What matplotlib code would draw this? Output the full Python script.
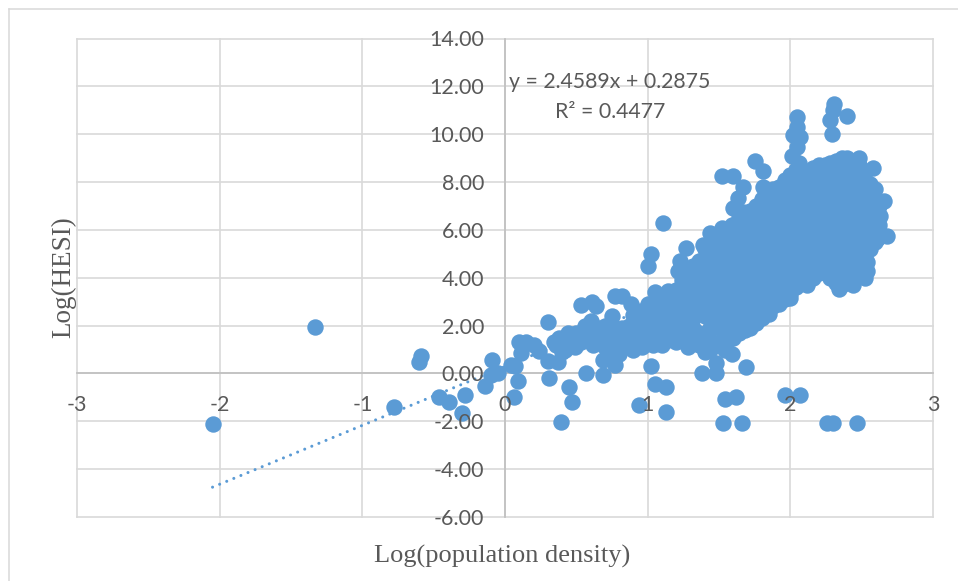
import matplotlib
matplotlib.use("Agg")
import matplotlib.pyplot as plt
from matplotlib.lines import Line2D

plt.rcParams["axes.unicode_minus"] = False

# outliers and small clusters
outlier_x = [-2.05, -1.33, -0.60, -0.59, -0.78, -0.46, -0.39, -0.28, -0.30, -0.14, -0.09, -0.10, -0.05,
             0.04, 0.07, 0.09, 0.06, 0.10, 0.15, 0.11, 0.20, 0.24, 0.30, 0.31, 0.30, 0.37, 0.45, 0.47, 0.39,
             0.57, 0.69, 0.69, 0.77, 0.94, 1.02, 1.05, 1.13, 1.13, 1.38, 1.48, 1.48, 1.54, 1.59, 1.69,
             1.54, 1.62, 1.53, 1.66, 1.96, 2.07, 2.26, 2.30, 2.47]
outlier_y = [-2.10, 1.93, 0.47, 0.72, -1.42, -1.00, -1.20, -0.90, -1.65, -0.52, 0.55, -0.05, 0.00,
             0.37, 0.33, -0.32, -1.00, 1.30, 1.30, 0.85, 1.17, 0.95, 2.15, -0.20, 0.50, 0.46, -0.55, -1.20, -2.05,
             0.00, -0.08, 0.55, 0.36, -1.33, 0.30, -0.45, -0.57, -1.60, 0.00, 0.00, 0.45, 1.00, 0.80, 0.27,
             -1.05, -1.00, -2.08, -2.08, -0.88, -0.92, -2.08, -2.08, -2.08]

upper_x = [2.305, 2.40, 2.28, 2.29, 2.05, 2.05, 2.02, 2.07, 2.01, 2.05, 1.75, 1.81, 1.52, 1.60, 1.67, 1.63,
           1.60, 1.67, 1.11, 1.81, 1.44, 1.52, 1.59, 1.39, 1.27, 1.23, 1.21, 1.02, 1.00, 2.58, 2.66, 2.68,
           2.34, 2.44, 2.12, 2.00, 1.85, 1.75, 2.54, 2.52, 2.30, 2.06, 2.04, 2.63, 2.61, 2.54]
upper_y = [11.25, 10.75, 10.60, 10.00, 10.70, 10.30, 9.95, 9.90, 9.10, 9.45, 8.90, 8.45, 8.25, 8.25, 7.80, 7.35,
           6.90, 6.75, 6.27, 7.80, 5.85, 6.10, 6.20, 5.35, 5.25, 4.70, 4.30, 5.00, 4.50, 8.60, 7.20, 5.73,
           3.55, 3.68, 3.68, 3.15, 2.50, 2.10, 4.30, 4.00, 11.00, 8.80, 8.50, 6.60, 5.60, 4.65]

mid_x = [0.36, 0.42, 0.46, 0.50, 0.53, 0.56, 0.60, 0.60, 0.65, 0.66, 0.70, 0.72, 0.75, 0.78, 0.80, 0.83, 0.85,
         0.87, 0.90, 0.93, 0.95, 0.96, 1.00, 1.00, 1.02, 1.03, 1.06, 1.08, 1.10, 1.12, 1.14, 1.15, 0.40, 0.49,
         0.72, 0.53, 0.61, 0.64, 0.77, 0.82, 0.88, 0.75, 0.90, 1.05, 1.14, 1.10, 0.34,
         0.38, 0.44, 0.50, 0.56, 0.62, 0.68, 0.70, 0.76, 0.80, 0.82, 0.90, 0.90, 0.96, 0.98, 1.04, 1.04, 1.08,
         1.08, 1.14, 1.16, 1.16, 1.18, 1.06, 1.00, 0.95]
mid_y = [1.20, 1.00, 1.40, 1.70, 1.30, 2.00, 1.60, 2.20, 1.90, 1.40, 1.10, 1.70, 2.00, 1.30, 0.80, 1.10, 1.60,
         2.00, 1.30, 1.70, 2.20, 1.10, 1.50, 2.00, 2.50, 2.90, 1.90, 2.30, 1.50, 2.70, 3.10, 1.90, 0.90, 1.10,
         0.70, 2.85, 3.00, 2.80, 3.25, 3.25, 2.90, 2.40, 2.45, 3.40, 3.45, 1.20, 1.30,
         1.50, 1.70, 1.20, 1.60, 1.20, 1.60, 2.00, 1.60, 1.30, 1.90, 1.00, 2.00, 1.50, 1.80, 1.20, 1.70, 1.30,
         2.70, 1.40, 2.30, 2.70, 3.20, 3.10, 2.90, 2.60]

# main cloud, one list of log(HESI) per log(density) column
cloud_x = [1.20, 1.24, 1.28, 1.32, 1.36, 1.40, 1.44, 1.48, 1.52, 1.56, 1.60, 1.64, 1.68, 1.72, 1.76, 1.80, 1.84,
           1.88, 1.92, 1.96, 2.00, 2.04, 2.08, 2.12, 2.16, 2.20, 2.24, 2.28, 2.32, 2.36, 2.40, 2.44, 2.48, 2.52,
           2.56, 2.59, 2.62]
cloud_y = [
    [1.3, 1.8, 2.7, 3.1, 3.5],
    [2.0, 2.5, 3.0, 3.9],
    [1.1, 1.5, 2.4, 2.9, 3.3, 3.8, 4.2],
    [1.9, 2.3, 3.2, 3.7, 4.5],
    [1.2, 1.7, 2.6, 3.0, 3.9, 4.4, 4.7],
    [0.9, 1.5, 2.4, 2.9, 3.4, 3.8, 4.3, 4.8, 5.2],
    [1.0, 1.4, 1.9, 2.8, 3.2, 3.7, 4.1, 4.6, 5.0, 5.4],
    [1.2, 2.1, 2.5, 3.0, 3.4, 3.9, 4.3, 4.8, 5.2, 5.6],
    [1.3, 1.8, 2.2, 2.7, 3.1, 3.6, 4.0, 4.5, 4.9, 5.4, 5.8],
    [1.4, 1.9, 2.3, 2.8, 3.2, 3.7, 4.1, 4.6, 5.0, 5.5, 5.9],
    [1.5, 2.0, 2.4, 2.9, 3.3, 3.8, 4.2, 4.7, 5.1, 5.6, 6.0],
    [1.7, 2.1, 2.6, 3.0, 3.5, 3.9, 4.4, 4.8, 5.3, 5.7, 6.2, 6.5],
    [1.8, 2.2, 2.7, 3.1, 3.6, 4.0, 4.5, 4.9, 5.4, 5.8, 6.3],
    [1.9, 2.3, 2.8, 3.2, 3.7, 4.1, 4.6, 5.0, 5.5, 5.9, 6.4, 6.8],
    [2.1, 2.5, 3.0, 3.4, 3.9, 4.3, 4.8, 5.2, 5.7, 6.1, 6.6, 7.0],
    [2.3, 2.8, 3.2, 3.7, 4.1, 4.6, 5.0, 5.5, 5.9, 6.4, 6.8, 7.3],
    [2.6, 3.0, 3.5, 3.9, 4.4, 4.8, 5.3, 5.7, 6.2, 6.6, 7.1, 7.5],
    [2.8, 3.2, 3.7, 4.1, 4.6, 5.0, 5.5, 5.9, 6.4, 6.8, 7.3, 7.7],
    [2.9, 3.3, 3.8, 4.2, 4.7, 5.1, 5.6, 6.0, 6.5, 6.9, 7.4, 7.8],
    [3.1, 3.6, 4.0, 4.5, 4.9, 5.4, 5.8, 6.3, 6.7, 7.2, 7.6, 8.1],
    [3.3, 3.8, 4.2, 4.7, 5.1, 5.6, 6.0, 6.5, 6.9, 7.4, 7.8, 8.3],
    [3.6, 4.0, 4.5, 4.9, 5.4, 5.8, 6.3, 6.7, 7.2, 7.6, 8.1, 8.5],
    [3.9, 4.3, 4.8, 5.2, 5.7, 6.1, 6.6, 7.0, 7.5, 7.9, 8.3],
    [3.9, 4.4, 4.8, 5.3, 5.7, 6.2, 6.6, 7.1, 7.5, 8.0, 8.4],
    [4.0, 4.5, 4.9, 5.4, 5.8, 6.3, 6.7, 7.2, 7.6, 8.1, 8.6],
    [4.2, 4.6, 5.1, 5.5, 6.0, 6.4, 6.9, 7.3, 7.8, 8.2, 8.7],
    [4.3, 4.7, 5.2, 5.6, 6.1, 6.5, 7.0, 7.4, 7.9, 8.3, 8.7],
    [4.0, 4.5, 4.9, 5.4, 5.8, 6.3, 6.7, 7.2, 7.6, 8.1, 8.6, 8.8],
    [3.8, 4.3, 4.7, 5.2, 5.6, 6.1, 6.5, 7.0, 7.4, 7.9, 8.4, 8.9],
    [3.7, 4.1, 4.6, 5.0, 5.5, 5.9, 6.4, 6.8, 7.3, 7.7, 8.2, 8.7, 9.0],
    [3.9, 4.4, 4.8, 5.3, 5.7, 6.2, 6.6, 7.1, 7.5, 8.0, 8.5, 9.0],
    [4.1, 4.7, 5.1, 5.6, 6.0, 6.5, 6.9, 7.4, 7.8, 8.3, 8.9],
    [4.5, 4.9, 5.4, 5.8, 6.3, 6.7, 7.2, 7.6, 8.1, 8.7, 9.0],
    [4.8, 5.3, 5.7, 6.2, 6.6, 7.1, 7.5, 8.0, 8.4],
    [5.2, 5.6, 6.1, 6.5, 7.0, 7.4, 7.9],
    [5.5, 5.9, 6.4, 6.8, 7.3, 7.7],
    [5.8, 6.2, 6.6, 7.0],
]

slope = 2.4589
intercept = 0.2875
trend_x = [-2.05, 2.66]

x_ticks = [-3, -2, -1, 0, 1, 2, 3]
y_ticks = [-6, -4, -2, 0, 2, 4, 6, 8, 10, 12, 14]

density = outlier_x + upper_x + mid_x
hesi = outlier_y + upper_y + mid_y
for cx, col in zip(cloud_x, cloud_y):
    density += [cx] * len(col)
    hesi += col

W, H = 958, 581
fig = plt.figure(figsize=(W / 100, H / 100), dpi=100)
ax = fig.add_axes([77 / W, (H - 517) / H, (933 - 77) / W, (517 - 38.5) / H])

label_font = ["Lato", "DejaVu Sans"]
serif_font = ["Liberation Serif", "DejaVu Serif"]
grey = "#595959"
blue = "#5B9BD5"

for t in x_ticks:
    ax.axvline(t, color="#D9D9D9", lw=1.2, zorder=0.5, clip_on=False)
for t in y_ticks:
    ax.axhline(t, color="#D9D9D9", lw=1.2, zorder=0.5, clip_on=False)

ax.scatter(density, hesi, s=140, color=blue, linewidths=0, zorder=1, clip_on=False)
ax.plot(trend_x, [slope * v + intercept for v in trend_x], color=blue, lw=2.2,
        linestyle=(0, (0.01, 2.5)), dash_capstyle="round", zorder=1)

ax.set_xlim(-3, 3)
ax.set_ylim(-6, 14)
for side in ["top", "right"]:
    ax.spines[side].set_visible(False)
ax.spines["left"].set_position(("data", 0))
ax.spines["bottom"].set_position(("data", 0))
for side in ["left", "bottom"]:
    ax.spines[side].set_color("#BFBFBF")
    ax.spines[side].set_linewidth(1.2)
    ax.spines[side].set_zorder(0.6)
ax.patch.set_visible(False)

ax.set_axisbelow(False)
ax.set_xticks(x_ticks)
ax.set_yticks(y_ticks)
ax.set_yticklabels([f"{t:.2f}" for t in y_ticks])
ax.tick_params(length=0, labelsize=15.5, labelcolor=grey)
ax.tick_params(axis="x", pad=15.5)
ax.tick_params(axis="y", pad=15)
for lab in ax.get_xticklabels() + ax.get_yticklabels():
    lab.set_family(label_font)

fig.text(610 / W, 1 - 82 / H, "y = 2.4589x + 0.2875", family=label_font, fontsize=15.3,
         color=grey, ha="center", va="center")
fig.text(610 / W, 1 - 112 / H, "R² = 0.4477", family=label_font, fontsize=15.3,
         color=grey, ha="center", va="center")
fig.text(502 / W, 1 - 556 / H, "Log(population density)", family=serif_font, fontsize=19,
         color=grey, ha="center", va="center")
fig.text(64 / W, 1 - 277 / H, "Log(HESI)", family=serif_font, fontsize=19.5,
         color=grey, ha="center", va="center", rotation=90)

# outer chart frame
frame = "#D9D9D9"
fig.add_artist(Line2D([9 / W, 9 / W], [0, 1 - 9 / H], color=frame, lw=1.1))
fig.add_artist(Line2D([9 / W, 1], [1 - 9 / H, 1 - 9 / H], color=frame, lw=1.1))

fig.savefig("out.png", dpi=100)
